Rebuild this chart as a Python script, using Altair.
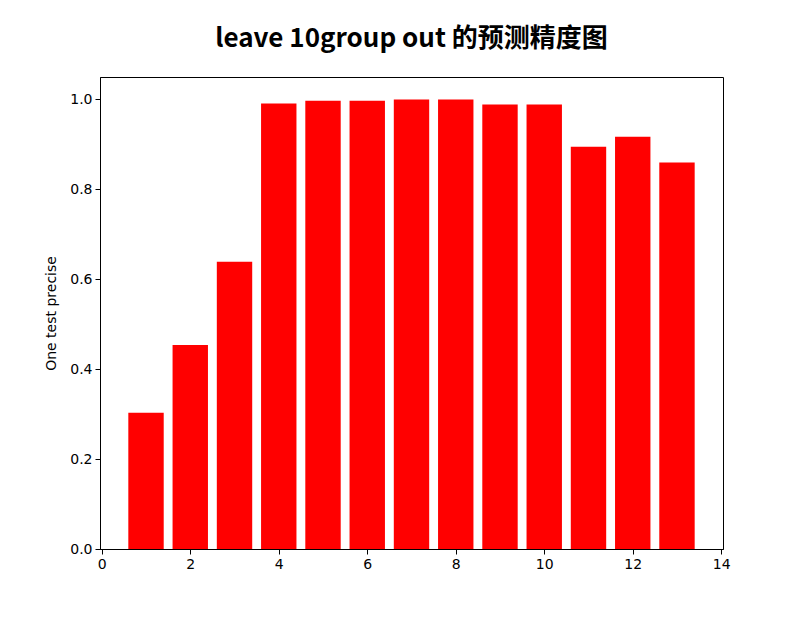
import altair as alt
import pandas as pd

groups = [1, 2, 3, 4, 5, 6, 7, 8, 9, 10, 11, 12, 13]
precision = [0.303, 0.454, 0.639, 0.991, 0.997, 0.997, 1.0, 1.0, 0.989, 0.989, 0.895, 0.917, 0.860]
x_ticks = [0, 2, 4, 6, 8, 10, 12, 14]
y_ticks = [0.0, 0.2, 0.4, 0.6, 0.8, 1.0]

df = pd.DataFrame({"group": groups, "precision": precision})

font = "DejaVu Sans"

chart = (
    alt.Chart(df)
    .transform_calculate(x0="datum.group - 0.4", x1="datum.group + 0.4")
    .mark_bar(color="#ff0000")
    .encode(
        x=alt.X(
            "x0:Q",
            scale=alt.Scale(domain=[-0.04, 14.04], nice=False, zero=False),
            axis=alt.Axis(values=x_ticks, format="d", title=None, grid=False,
                          tickSize=5, labelPadding=3),
        ),
        x2="x1:Q",
        y=alt.Y(
            "precision:Q",
            scale=alt.Scale(domain=[0, 1.05], nice=False),
            axis=alt.Axis(values=y_ticks, format=".1f", title="One test precise",
                          grid=False, tickSize=5, labelPadding=3, titlePadding=11),
        ),
        y2=alt.datum(0),
    )
    .properties(
        width=623,
        height=472,
        autosize=alt.AutoSizeParams(type="none"),
        padding={"left": 92, "top": 69, "right": 60, "bottom": 60},
        title=alt.TitleParams(
            "leave 10group out 的预测精度图",
            font="Noto Sans CJK SC",
            fontSize=26,
            fontWeight="bold",
            color="black",
            anchor="middle",
            offset=25,
        ),
    )
    .configure_view(stroke="black", strokeWidth=1)
    .configure_axis(
        labelFont=font,
        titleFont=font,
        labelFontSize=14,
        titleFontSize=14,
        titleFontWeight="normal",
        labelColor="black",
        titleColor="black",
        domainColor="black",
        tickColor="black",
    )
)

chart.save("out.html", embed_options={"renderer": "svg", "actions": False})
